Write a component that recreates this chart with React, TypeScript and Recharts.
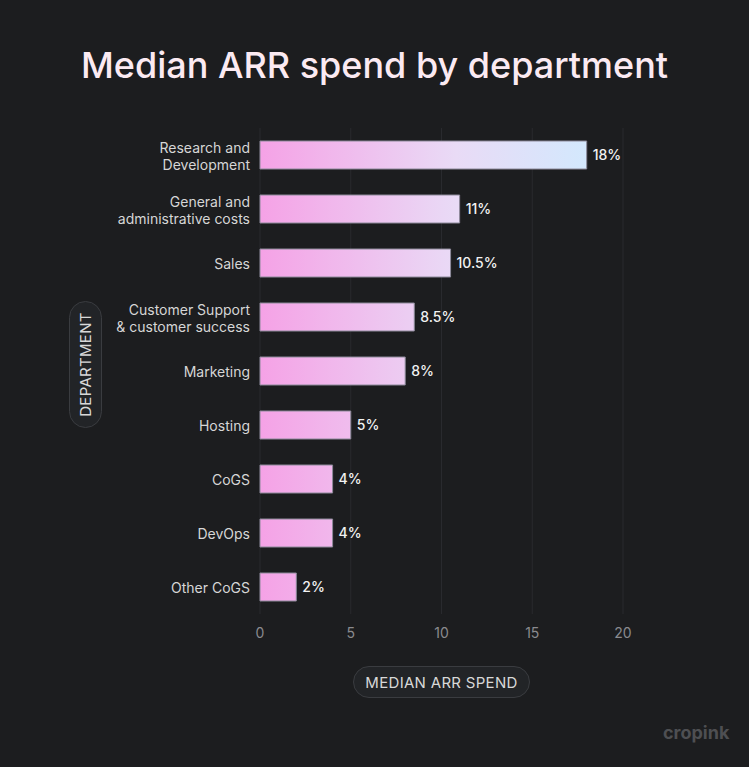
import React from 'react';
import { BarChart, Bar, XAxis, YAxis, CartesianGrid, LabelList } from 'recharts';

const departments = [
    'Research and|Development',
    'General and|administrative costs',
    'Sales',
    'Customer Support|& customer success',
    'Marketing',
    'Hosting',
    'CoGS',
    'DevOps',
    'Other CoGS',
];
const spend = [18, 11, 10.5, 8.5, 8, 5, 4, 4, 2];
const xTicks = [0, 5, 10, 15, 20];

const data = departments.map((name, i) => ({ name, value: spend[i] }));

const FONT = 'Inter, "Noto Sans", sans-serif';

const DeptTick = (props: any) => {
    const { x, y, payload } = props;
    const lines = String(payload.value).split('|');
    const lh = 17;
    const start = y - ((lines.length - 1) * lh) / 2;
    return (
        <text x={x} y={start} textAnchor="end" fill="#d6d6d6" fontSize={14} fontFamily={FONT} dominantBaseline="central">
            {lines.map((l, i) => (
                <tspan key={i} x={x} y={start + i * lh}>
                    {l}
                </tspan>
            ))}
        </text>
    );
};

const pill: React.CSSProperties = {
    position: 'absolute',
    border: '1px solid #3a3c40',
    background: '#222427',
    color: '#d8d8d8',
    fontFamily: FONT,
    fontSize: 15,
    letterSpacing: 0.3,
    display: 'flex',
    alignItems: 'center',
    justifyContent: 'center',
    boxSizing: 'border-box',
};

export default function App() {
    return (
        <div style={{ position: 'absolute', left: 0, top: 0, width: 749, height: 767, background: '#1c1d1f', overflow: 'hidden' }}>
            <div
                style={{
                    position: 'absolute',
                    top: 40,
                    width: 749,
                    textAlign: 'center',
                    color: '#fbeaf2',
                    fontFamily: FONT,
                    fontWeight: 500,
                    fontSize: 36,
                    lineHeight: '50px',
                }}
            >
                Median ARR spend by department
            </div>
            <BarChart
                width={749}
                height={767}
                data={data}
                layout="vertical"
                margin={{ top: 128, right: 126, bottom: 123, left: 0 }}
                barSize={28}
            >
                <defs>
                    <linearGradient id="barGrad" gradientUnits="userSpaceOnUse" x1={260} y1={0} x2={587} y2={0}>
                        <stop offset="0%" stopColor="#f5a2e6" />
                        <stop offset="60%" stopColor="#e9dbf6" />
                        <stop offset="100%" stopColor="#d3e8fd" />
                    </linearGradient>
                </defs>
                <CartesianGrid horizontal={false} stroke="#292a2e" />
                <XAxis
                    type="number"
                    domain={[0, 20]}
                    ticks={xTicks}
                    height={30}
                    axisLine={false}
                    tickLine={false}
                    tick={{ fill: '#8a8a8e', fontSize: 14, fontFamily: FONT }}
                    tickMargin={8}
                />
                <YAxis
                    type="category"
                    dataKey="name"
                    width={260}
                    axisLine={false}
                    tickLine={false}
                    tickMargin={4}
                    tick={<DeptTick />}
                    interval={0}
                />
                <Bar dataKey="value" fill="url(#barGrad)" stroke="#8d8a9a" strokeWidth={1} isAnimationActive={false}>
                    <LabelList
                        dataKey="value"
                        position="right"
                        offset={6}
                        formatter={(v: any) => `${v}%`}
                        style={{ fill: '#f2f2f2', fontSize: 14, fontWeight: 500, fontFamily: FONT }}
                    />
                </Bar>
            </BarChart>
            <div style={{ ...pill, left: 69, top: 301, width: 33, height: 127, borderRadius: 17 }}>
                <span style={{ transform: 'rotate(-90deg)', whiteSpace: 'nowrap' }}>DEPARTMENT</span>
            </div>
            <div style={{ ...pill, left: 353, top: 666, width: 177, height: 32, borderRadius: 16 }}>MEDIAN ARR SPEND</div>
            <div
                style={{
                    position: 'absolute',
                    left: 663,
                    top: 722,
                    color: '#4e4f52',
                    fontFamily: FONT,
                    fontWeight: 700,
                    fontSize: 18,
                }}
            >
                cropink
            </div>
        </div>
    );
}
